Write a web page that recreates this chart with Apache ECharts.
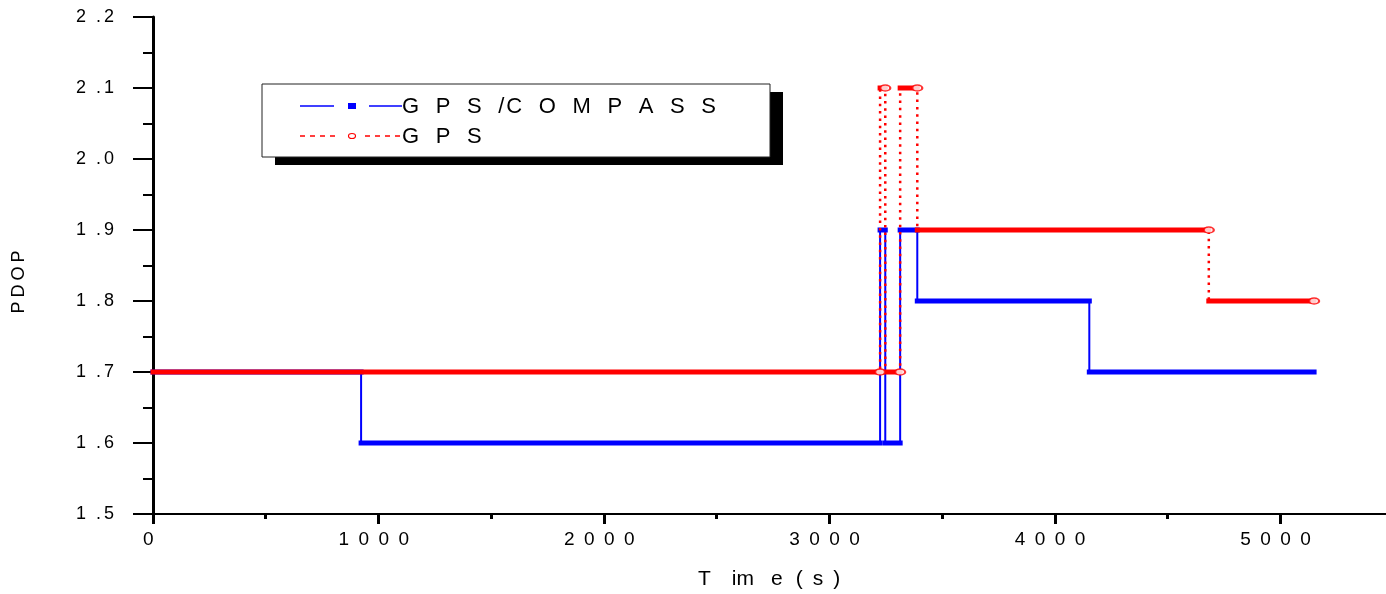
<!DOCTYPE html>
<html>
<head>
<meta charset="utf-8">
<script src="https://cdn.jsdelivr.net/npm/echarts@6/dist/echarts.min.js"></script>
<style>
html,body{margin:0;padding:0;background:#fff;}
#c{width:1386px;height:594px;}
</style>
</head>
<body>
<div id="c"></div>
<script>
// ---- data ----
const blueName = 'GPS/COMPASS';
const redName = 'GPS';
// change-point times (s) and the PDOP value held on each interval
const blueTimes = [0, 923, 3225, 3248, 3314, 3390, 4153, 5150];
const blueVals  = [1.7, 1.6, 1.9, 1.6, 1.9, 1.8, 1.7];
const redTimes  = [0, 3225, 3248, 3314, 3390, 4683, 5150];
const redVals   = [1.7, 2.1, 1.7, 2.1, 1.9, 1.8];
const xTickValues = [0, 1000, 2000, 3000, 4000, 5000];
const yTickValues = [1.5, 1.6, 1.7, 1.8, 1.9, 2.0, 2.1, 2.2];
const xTitle = 'Time(s)';
const yTitle = 'PDOP';

// ---- helpers ----
function stepPoints(times, vals) {
  const pts = [];
  for (let i = 0; i < vals.length; i++) {
    pts.push([times[i], vals[i]]);
    pts.push([times[i + 1], vals[i]]);
  }
  return pts;
}
function segments(times, vals) {
  const pts = [];
  for (let i = 0; i < vals.length; i++) {
    pts.push([times[i], vals[i]]);
    pts.push([times[i + 1], vals[i]]);
    pts.push([times[i + 1], null]);
  }
  return pts;
}
function segEnds(times, vals) {
  const pts = [];
  for (let i = 0; i < vals.length; i++) pts.push([times[i + 1], vals[i]]);
  return pts;
}
function spaced(str, special) {
  let out = '';
  for (const ch of str) {
    const key = (special && special[ch]) ? special[ch] : 'c';
    out += '{' + key + '|' + ch + '}';
  }
  return out;
}

const chart = echarts.init(document.getElementById('c'), null, {renderer: 'canvas'});
const FONT = 'Liberation Sans, Arial, sans-serif';

const option = {
  backgroundColor: '#ffffff',
  animation: false,
  grid: {left: 153, top: 17, height: 497, width: 1240, containLabel: false, outerBoundsMode: 'none'},
  xAxis: {
    type: 'value', min: 0, max: 5500, interval: 1000,
    axisLine: {show: true, onZero: false, lineStyle: {color: '#000', width: 2}},
    axisTick: {show: true, length: 10, lineStyle: {color: '#000', width: 3}},
    minorTick: {show: true, splitNumber: 2, length: 5, lineStyle: {color: '#000', width: 3}},
    splitLine: {show: false},
    axisLabel: {
      margin: 16,
      formatter: function (v) {
        if (xTickValues.indexOf(v) < 0) return '';
        return spaced(String(v));
      },
      rich: {c: {fontFamily: FONT, fontSize: 19, color: '#000', width: 20, align: 'left', lineHeight: 20}}
    }
  },
  yAxis: {
    type: 'value', min: 1.5, max: 2.2, interval: 0.1,
    axisLine: {show: true, lineStyle: {color: '#000', width: 3}},
    axisTick: {show: true, length: 20, lineStyle: {color: '#000', width: 2}},
    minorTick: {show: true, splitNumber: 2, length: 10, lineStyle: {color: '#000', width: 2}},
    splitLine: {show: false},
    axisLabel: {
      margin: 39,
      formatter: function (v) {
        const s = v.toFixed(1);
        return '{a|' + s[0] + '}{b|.}{a|' + s[2] + '}';
      },
      rich: {
        a: {fontFamily: FONT, fontSize: 18, color: '#000'},
        b: {fontFamily: FONT, fontSize: 18, color: '#000', padding: [0, 3, 0, 10]}
      }
    }
  },
  series: [
    {
      name: blueName + ' link', type: 'line', data: stepPoints(blueTimes, blueVals),
      showSymbol: false, symbol: 'none', z: 2,
      lineStyle: {color: '#0000ff', width: 2}
    },
    {
      name: blueName, type: 'line', data: segments(blueTimes, blueVals),
      showSymbol: false, symbol: 'none', connectNulls: false, z: 3,
      lineStyle: {color: '#0000ff', width: 5, cap: 'square'}
    },
    {
      name: redName + ' link', type: 'line', data: stepPoints(redTimes, redVals),
      showSymbol: false, symbol: 'none', z: 4,
      lineStyle: {color: '#ff0000', width: 2.5, type: [2.5, 4.8]}
    },
    {
      name: redName, type: 'line', data: segments(redTimes, redVals),
      showSymbol: false, symbol: 'none', connectNulls: false, z: 5,
      lineStyle: {color: '#ff0000', width: 5, cap: 'square'}
    },
    {
      name: redName + ' markers', type: 'scatter', data: segEnds(redTimes, redVals),
      symbol: 'circle', symbolSize: [10, 6], z: 6,
      itemStyle: {color: '#ffffff', borderColor: '#ff0000', borderWidth: 1.8}
    }
  ],
  graphic: [
    // legend box with shadow
    {type: 'rect', shape: {x: 275, y: 92, width: 508, height: 73}, style: {fill: '#000'}, z: 10},
    {type: 'rect', shape: {x: 262, y: 84, width: 508, height: 73}, style: {fill: '#fff', stroke: '#222', lineWidth: 1}, z: 11},
    // blue sample
    {type: 'line', shape: {x1: 300, y1: 106, x2: 334, y2: 106}, style: {stroke: '#0000ff', lineWidth: 1.3}, z: 12},
    {type: 'rect', shape: {x: 348, y: 103, width: 8, height: 6}, style: {fill: '#0000ff'}, z: 12},
    {type: 'line', shape: {x1: 369, y1: 106, x2: 402, y2: 106}, style: {stroke: '#0000ff', lineWidth: 1.3}, z: 12},
    // red sample
    {type: 'line', shape: {x1: 300, y1: 136, x2: 340, y2: 136}, style: {stroke: '#ff0000', lineWidth: 1.5, lineDash: [5, 5]}, z: 12},
    {type: 'ellipse', shape: {cx: 352, cy: 136, rx: 3.5, ry: 2.5}, style: {fill: '#fff', stroke: '#ff0000', lineWidth: 1.2}, z: 12},
    {type: 'line', shape: {x1: 365, y1: 136, x2: 402, y2: 136}, style: {stroke: '#ff0000', lineWidth: 1.5, lineDash: [5, 5]}, z: 12},
    {
      type: 'text', x: 402, y: 107, z: 12,
      style: {
        text: spaced(blueName, {'/': 's'}), verticalAlign: 'middle', align: 'left',
        rich: {
          c: {fontFamily: FONT, fontSize: 22, fill: '#000', padding: [0, 16.6, 0, 0]},
          s: {fontFamily: FONT, fontSize: 22, fill: '#000', padding: [0, 2, 0, 0]}
        }
      }
    },
    {
      type: 'text', x: 402, y: 137, z: 12,
      style: {
        text: spaced(redName), verticalAlign: 'middle', align: 'left',
        rich: {c: {fontFamily: FONT, fontSize: 22, fill: '#000', padding: [0, 16.6, 0, 0]}}
      }
    },
    // axis titles
    {
      type: 'text', x: 698, y: 579, z: 12,
      style: {
        text: '{t|T}{i|im}{e|e}{p|(}{s|s}{q|)}', verticalAlign: 'middle', align: 'left',
        rich: {
          t: {fontFamily: FONT, fontSize: 21, fill: '#000', padding: [0, 21, 0, 0]},
          i: {fontFamily: FONT, fontSize: 21, fill: '#000', padding: [0, 17, 0, 0]},
          e: {fontFamily: FONT, fontSize: 21, fill: '#000', padding: [0, 13, 0, 0]},
          p: {fontFamily: FONT, fontSize: 21, fill: '#000', padding: [0, 10, 0, 0]},
          s: {fontFamily: FONT, fontSize: 21, fill: '#000', padding: [0, 10, 0, 0]},
          q: {fontFamily: FONT, fontSize: 21, fill: '#000'}
        }
      }
    },
    {
      type: 'text', x: 19, y: 282, rotation: Math.PI / 2, z: 12,
      style: {
        text: spaced(yTitle), align: 'center', verticalAlign: 'middle',
        rich: {c: {fontFamily: FONT, fontSize: 18, fill: '#000', padding: [0, 2, 0, 2]}}
      }
    }
  ]
};
chart.setOption(option);
</script>
</body>
</html>
